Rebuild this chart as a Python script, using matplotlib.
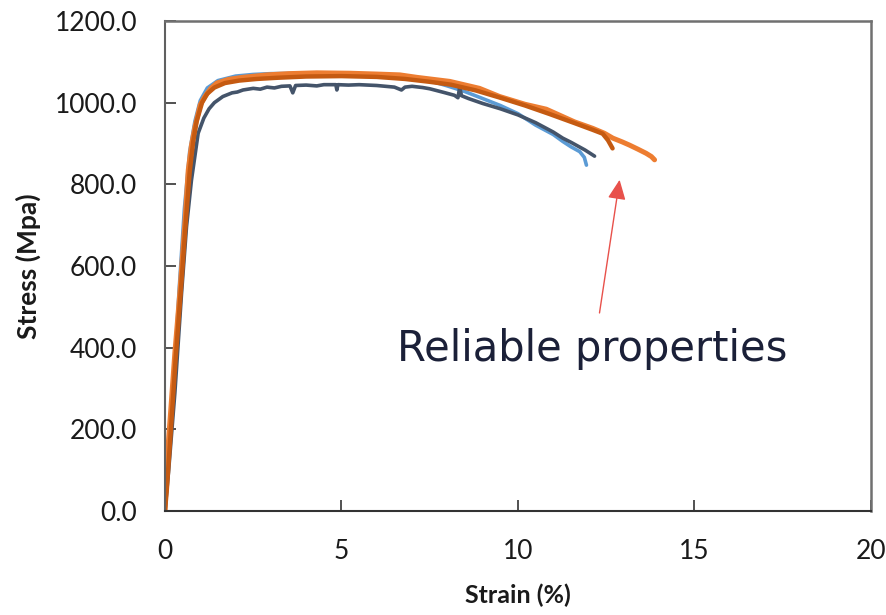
import matplotlib
matplotlib.use("Agg")
import matplotlib.pyplot as plt

# Tensile test curves (strain in %, stress in MPa)
blue_strain = [0, 0.1, 0.25, 0.4, 0.55, 0.7, 0.85, 1.0, 1.2, 1.5, 2.0, 2.5, 3.0, 4.0, 5.0,
               6.0, 7.0, 7.6, 8.0, 8.5, 9.0, 9.5, 10.0, 10.5, 11.0, 11.27, 11.5, 11.75, 11.88, 11.94]
blue_stress = [0, 125, 320, 540, 740, 880, 955, 1005, 1036, 1054, 1065, 1069, 1071, 1072, 1071,
               1068, 1060, 1051, 1041, 1027, 1010, 993, 973, 945, 922, 905, 892, 880, 866, 847]

navy_strain = [0, 0.1, 0.28, 0.47, 0.61, 0.75, 0.94, 1.1, 1.25, 1.4, 1.64, 1.9, 2.05, 2.21, 2.5, 2.7, 2.89,
               3.1, 3.3, 3.54, 3.62, 3.7, 4.0, 4.3, 4.5, 4.84, 4.87, 4.9, 5.2, 5.5, 6.0, 6.5, 6.7, 6.8, 7.0,
               7.3, 7.5, 7.9, 8.2, 8.3, 8.35, 8.4, 8.6, 9.0, 9.5, 10.0, 10.5, 11.0, 11.27, 11.5, 11.9, 12.17]
navy_stress = [0, 95, 289, 534, 696, 810, 925, 962, 985, 1000, 1015, 1024, 1026, 1031, 1035, 1033, 1038,
               1036, 1040, 1041, 1024, 1042, 1043, 1041, 1044, 1044, 1031, 1044, 1043, 1044, 1042, 1038, 1031, 1038, 1040,
               1037, 1034, 1025, 1018, 1012, 1038, 1017, 1010, 998, 985, 970, 951, 928, 913, 903, 884, 869]

orange_strain = [0, 0.02, 0.15, 0.28, 0.42, 0.57, 0.66, 0.75, 0.85, 1.0, 1.13, 1.3, 1.47, 1.8, 2.2,
                 2.89, 3.5, 4.3, 5.24, 6.0, 6.65, 7.13, 8.07, 8.91, 9.48, 10.2, 10.8, 11.6, 12.12,
                 12.45, 12.69, 12.95, 13.16, 13.4, 13.63, 13.78, 13.87]
orange_stress = [0, 80, 230, 387, 533, 713, 835, 895, 941, 995, 1015, 1035, 1048, 1057, 1062,
                 1068, 1071, 1073, 1072, 1070, 1068, 1062, 1052, 1035, 1015, 996, 984, 953, 937,
                 925, 913, 904, 896, 886, 876, 868, 860]

dark_strain = [0, 0.05, 0.18, 0.3, 0.45, 0.6, 0.7, 0.8, 0.9, 1.05, 1.2, 1.4, 1.7, 2.1, 2.6,
               3.2, 4.0, 5.0, 6.0, 6.8, 7.5, 8.1, 8.8, 9.5, 10.2, 10.9, 11.6, 12.1, 12.4, 12.55, 12.68]
dark_stress = [0, 50, 215, 370, 540, 720, 830, 905, 955, 1000, 1022, 1037, 1048, 1054, 1058,
               1061, 1064, 1065, 1063, 1058, 1051, 1044, 1030, 1012, 993, 972, 950, 934, 924, 908, 888]

x_ticks = [0, 5, 10, 15, 20]
y_ticks = [0, 200, 400, 600, 800, 1000, 1200]

plt.rcParams['font.family'] = ['Lato', 'DejaVu Sans']

fig = plt.figure(figsize=(8.86, 6.15), dpi=100)
ax = fig.add_axes([0.1862, 0.1691, 0.7968, 0.7968])

ax.plot(blue_strain, blue_stress, color='#5b9bd5', lw=2.6, solid_capstyle='round')
ax.plot(navy_strain, navy_stress, color='#44546a', lw=2.6, solid_capstyle='round')
ax.plot(orange_strain, orange_stress, color='#ed7d31', lw=3.6, solid_capstyle='round')
ax.plot(dark_strain, dark_stress, color='#c55a11', lw=3.2, solid_capstyle='round')

ax.set_xlim(0, 20)
ax.set_ylim(0, 1200)
ax.set_xticks(x_ticks)
ax.set_yticks(y_ticks)
ax.set_xticklabels([str(v) for v in x_ticks])
ax.set_yticklabels([f"{v:.1f}" for v in y_ticks])
ax.tick_params(direction='in', length=8, width=1.2, color='#333333',
               labelsize=19, labelcolor='#1a1a1a', pad=20)

for side in ['top', 'right']:
    ax.spines[side].set_color('#707070')
    ax.spines[side].set_linewidth(1.8)
ax.spines['left'].set_color('#606060')
ax.spines['left'].set_linewidth(1.5)
ax.spines['bottom'].set_color('#333333')
ax.spines['bottom'].set_linewidth(1.5)

ax.set_xlabel('Strain (%)', fontsize=18, fontweight='bold', color='#1a1a1a', labelpad=14)
ax.set_ylabel('Stress (Mpa)', fontsize=19, fontweight='bold', color='#1a1a1a', labelpad=10)

# annotation
ax.annotate('', xy=(12.88, 811), xytext=(12.31, 485),
            arrowprops=dict(arrowstyle='-|>,head_length=1.2,head_width=0.55',
                            color='#e8514b', lw=1.0, mutation_scale=10,
                            shrinkA=0, shrinkB=0))
ax.text(6.57, 367, 'Reliable properties', fontsize=30, family='DejaVu Sans',
        color='#1b2038', va='baseline', ha='left')

fig.savefig('out.png', dpi=100)
